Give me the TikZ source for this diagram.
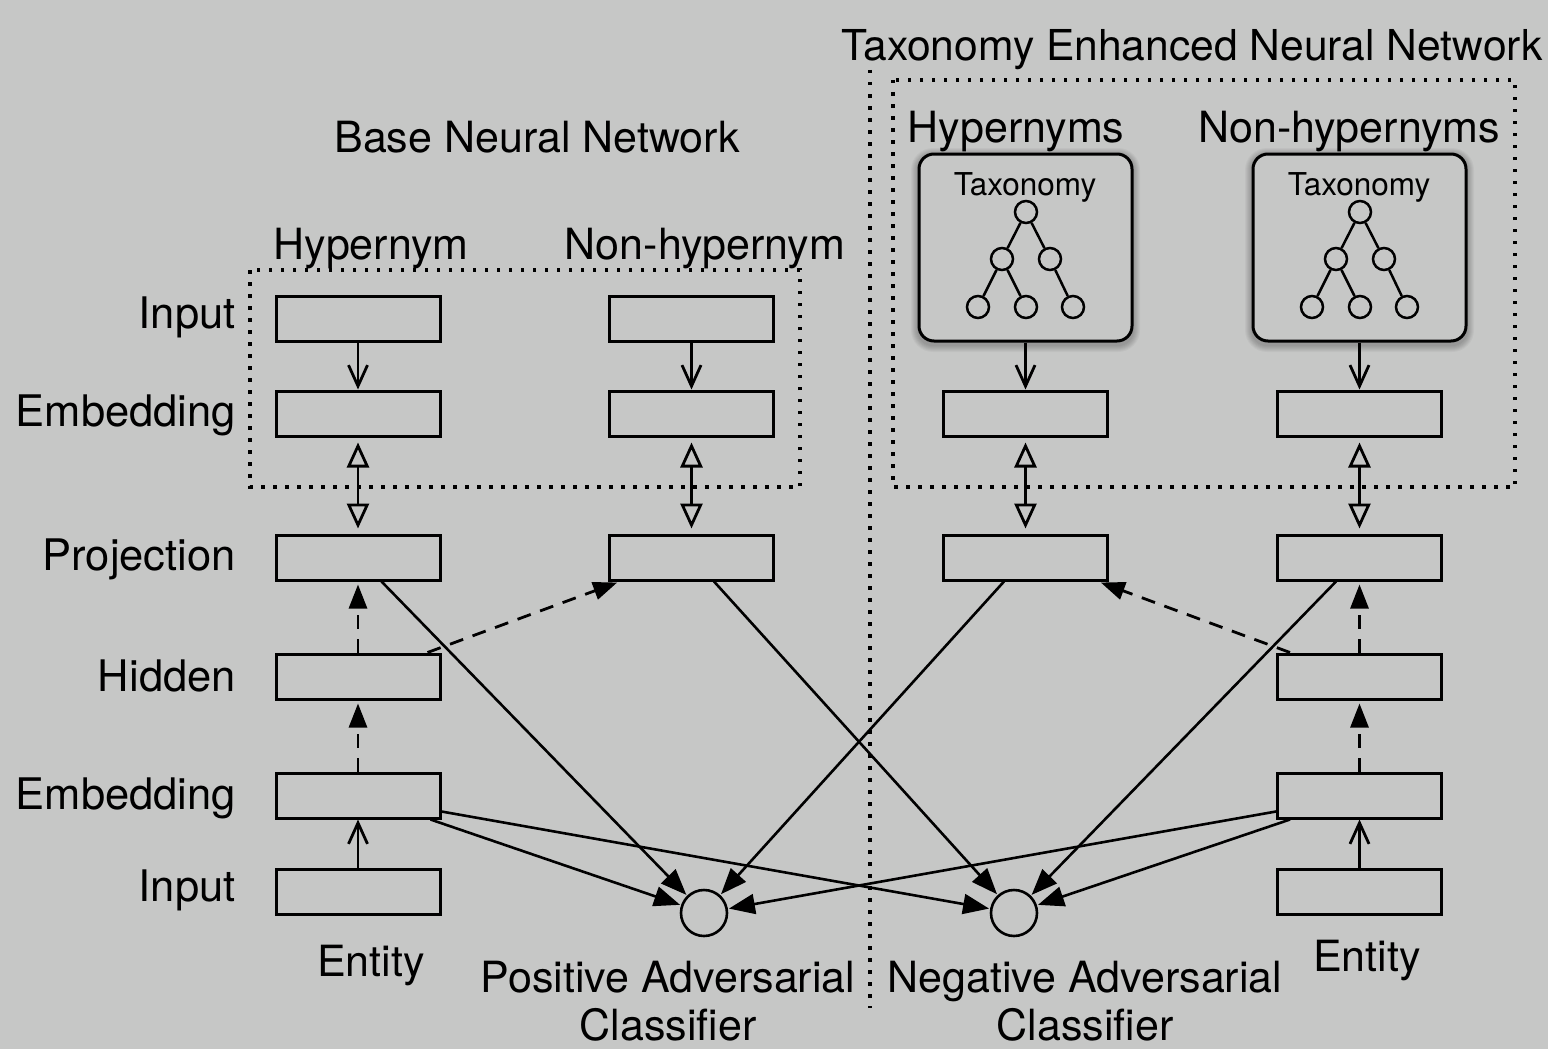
\documentclass[tikz,border=0pt]{standalone}
\usepackage{fontspec}
\setmainfont{TeX Gyre Heros}
\usetikzlibrary{arrows.meta,calc}
\definecolor{bg}{RGB}{198,199,198}
\begin{document}
\begin{tikzpicture}[x=1pt,y=-1pt,
  lbl/.style={font=\fontsize{43}{50}\selectfont, inner sep=0pt, anchor=base},
  rlbl/.style={font=\fontsize{43.5}{50}\selectfont, inner sep=0pt, anchor=base east},
  box/.style={draw, line width=3pt, minimum width=164pt, minimum height=45pt, inner sep=0pt},
  clf/.style={draw, circle, line width=2.6pt, minimum size=46pt, inner sep=0pt},
  tnode/.style={draw, circle, line width=2.5pt, minimum size=22pt, inner sep=0pt},
  taxbox/.style={draw, rounded corners=15pt, line width=3pt, minimum width=213pt, minimum height=187pt, inner sep=0pt},
  thin/.style={line width=2.8pt, -{Straight Barb[length=21pt,width=19pt,line width=2.8pt]}},
  dbl/.style={line width=2.8pt, {Triangle[open,length=25pt,width=22pt,line width=2.8pt]}-{Triangle[open,length=25pt,width=22pt,line width=2.8pt]}, shorten <=5pt, shorten >=5pt},
  dasharrow/.style={line width=2.8pt, dash pattern=on 14pt off 10pt, -{Triangle[length=24pt,width=18pt]}, shorten >=3pt},
  cross/.style={line width=2.6pt, -{Triangle[length=26pt,width=20pt]}, shorten >=1pt},
  dotline/.style={line width=3.2pt, dash pattern=on 3.5pt off 8.5pt},
  tline/.style={line width=2.5pt}
]
\fill[bg] (0,0) rectangle (1548,1049);
\useasboundingbox (0,0) rectangle (1548,1049);

% dotted frames
\draw[dotline] (250,270) rectangle (800,487);
\draw[dotline] (893,80) rectangle (1515,487);
\draw[dotline] (870,70) -- (870,1008);

% titles
\node[lbl, font=\fontsize{42.6}{50}\selectfont] (tTax) at (1192,60) {Taxonomy Enhanced Neural Network};
\node[lbl] (tBase) at (537,152) {Base Neural Network};
\node[lbl] (tHyp) at (371,259) {Hypernym};
\node[lbl] (tNon) at (705,259) {Non-hypernym};
\node[lbl] (tHyps) at (1016,142) {Hypernyms};
\node[lbl] (tNons) at (1349,142) {Non-hypernyms};

% row labels
\node[rlbl] (rIn1) at (236,328) {Input};
\node[rlbl] (rEm1) at (236,426) {Embedding};
\node[rlbl] (rPr) at (236,570) {Projection};
\node[rlbl] (rHi) at (236,691) {Hidden};
\node[rlbl] (rEm2) at (236,809) {Embedding};
\node[rlbl] (rIn2) at (236,901) {Input};

% left boxes
\node[box] (inL) at (358,318.5) {};
\node[box] (embL) at (358,413.5) {};
\node[box] (projL) at (358,557.5) {};
\node[box] (hidL) at (358,676.5) {};
\node[box] (emb2L) at (358,795.5) {};
\node[box] (in2L) at (358,891.5) {};
\node[box] (inN) at (691.5,318.5) {};
\node[box] (embN) at (691.5,413.5) {};
\node[box] (projN) at (691.5,557.5) {};

% right boxes
\node[box] (embA) at (1025.5,413.5) {};
\node[box] (projA) at (1025.5,557.5) {};
\node[box] (embB) at (1359.5,413.5) {};
\node[box] (projB) at (1359.5,557.5) {};
\node[box] (hidB) at (1359.5,676.5) {};
\node[box] (emb2B) at (1359.5,795.5) {};
\node[box] (in2B) at (1359.5,891.5) {};

% taxonomy boxes with soft shadow
\foreach \cx in {1025.5,1359.5}{
  \foreach \g in {1,...,7}{
    \fill[black, opacity=0.035, rounded corners=15pt+\g pt]
      (\cx-107.5-\g,153-\g+2) rectangle (\cx+107.5+\g,342+\g+3);
  }
}
\node[taxbox, fill=bg] (taxA) at (1025.5,247.5) {};
\node[taxbox, fill=bg] (taxB) at (1359.5,247.5) {};

\node[font=\fontsize{31.5}{36}\selectfont, inner sep=0pt, anchor=base] (txA) at (1025,195) {Taxonomy};
\node[font=\fontsize{31.5}{36}\selectfont, inner sep=0pt, anchor=base] (txB) at (1359,195) {Taxonomy};

% trees
\node[tnode] (aR) at (1026,212) {};
\node[tnode] (aM1) at (1002,259) {};
\node[tnode] (aM2) at (1050,259) {};
\node[tnode] (aB1) at (978,307) {};
\node[tnode] (aB2) at (1026,307) {};
\node[tnode] (aB3) at (1073,307) {};
\draw[tline] (aR) -- (aM1) (aR) -- (aM2) (aM1) -- (aB1) (aM1) -- (aB2) (aM2) -- (aB3);

\node[tnode] (bR) at (1360,212) {};
\node[tnode] (bM1) at (1336,259) {};
\node[tnode] (bM2) at (1384,259) {};
\node[tnode] (bB1) at (1312,307) {};
\node[tnode] (bB2) at (1360,307) {};
\node[tnode] (bB3) at (1407,307) {};
\draw[tline] (bR) -- (bM1) (bR) -- (bM2) (bM1) -- (bB1) (bM1) -- (bB2) (bM2) -- (bB3);

% classifiers
\node[clf] (pos) at (704,913) {};
\node[clf] (neg) at (1014,913) {};

% bottom labels
\node[lbl] (entL) at (371,976) {Entity};
\node[lbl] (entR) at (1367,971) {Entity};
\node[lbl] (posT1) at (668,992) {Positive Adversarial};
\node[lbl] (posT2) at (668,1040) {Classifier};
\node[lbl] (negT1) at (1085,992) {Negative Adversarial};
\node[lbl] (negT2) at (1085,1040) {Classifier};

% vertical arrows
\draw[thin] (inL) -- (embL);
\draw[thin] (inN) -- (embN);
\draw[thin] (taxA) -- (embA);
\draw[thin] (taxB) -- (embB);
\draw[dbl] (embL) -- (projL);
\draw[dbl] (embN) -- (projN);
\draw[dbl] (embA) -- (projA);
\draw[dbl] (embB) -- (projB);
\draw[dasharrow] (hidL) -- (projL);
\draw[dasharrow] (emb2L) -- (hidL);
\draw[dasharrow] (hidB) -- (projB);
\draw[dasharrow] (emb2B) -- (hidB);
\draw[thin] (in2L) -- (emb2L);
\draw[thin] (in2B) -- (emb2B);

% dashed diagonals
\draw[dasharrow] ([xshift=-14pt]hidL.north east) -- ([xshift=12pt]projN.south west);
\draw[dasharrow] ([xshift=14pt]hidB.north west) -- ([xshift=-11pt]projA.south east);

% crossing arrows
\draw[cross] ([xshift=107pt]projL.south west) -- (pos);
\draw[cross] ([xshift=106pt]projN.south west) -- (neg);
\draw[cross] ([xshift=62pt]projA.south west) -- (pos);
\draw[cross] ([xshift=60pt]projB.south west) -- (neg);
\draw[cross] ([xshift=-11pt]emb2L.south east) -- (pos);
\draw[cross] ([yshift=-16pt]emb2L.east) -- (neg);
\draw[cross] ([yshift=-16pt]emb2B.west) -- (pos);
\draw[cross] ([xshift=14pt]emb2B.south west) -- (neg);
\end{tikzpicture}
\end{document}
